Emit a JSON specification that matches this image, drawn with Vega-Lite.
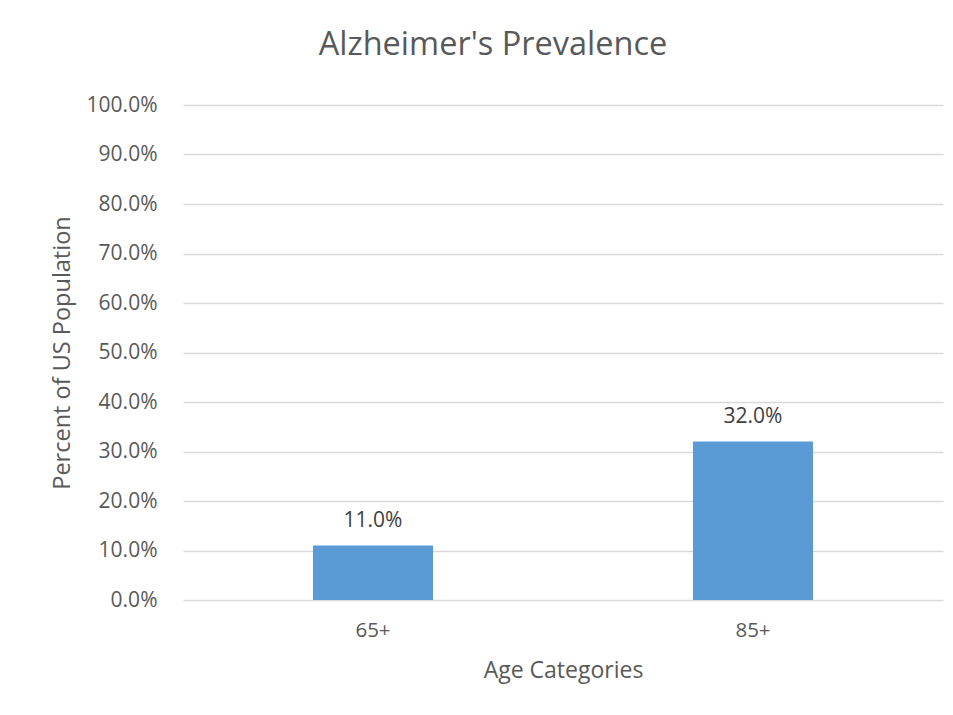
{
  "$schema": "https://vega.github.io/schema/vega-lite/v6.json",
  "width": 760,
  "height": 495,
  "autosize": {"type": "none"},
  "padding": {"left": 183, "top": 105, "right": 10, "bottom": 115},
  "background": "white",
  "title": {
    "text": "Alzheimer's Prevalence",
    "font": "Open Sans",
    "fontSize": 32.5,
    "fontWeight": "normal",
    "color": "#595959",
    "anchor": "middle",
    "baseline": "alphabetic",
    "offset": 7,
    "dx": -70
  },
  "data": {
    "values": [
      {"age": "65+", "prevalence": 0.11},
      {"age": "85+", "prevalence": 0.32}
    ]
  },
  "encoding": {
    "x": {
      "field": "age",
      "type": "nominal",
      "sort": null,
      "scale": {"paddingInner": 0.684, "paddingOuter": 0.342},
      "axis": {
        "title": "Age Categories",
        "labelAngle": 0,
        "labelFont": "Open Sans",
        "labelFontSize": 20.5,
        "labelColor": "#595959",
        "labelPadding": 20,
        "ticks": false,
        "domain": false,
        "titleFont": "Open Sans",
        "titleFontSize": 23,
        "titleFontWeight": "normal",
        "titleColor": "#595959",
        "titlePadding": 19
      }
    },
    "y": {
      "field": "prevalence",
      "type": "quantitative",
      "scale": {"domain": [0, 1], "nice": false},
      "axis": {
        "title": "Percent of US Population",
        "values": [0, 0.1, 0.2, 0.3, 0.4, 0.5, 0.6, 0.7, 0.8, 0.9, 1],
        "format": ".1%",
        "labelFont": "Open Sans",
        "labelFontSize": 21,
        "labelColor": "#595959",
        "labelPadding": 26,
        "ticks": false,
        "domain": false,
        "grid": true,
        "gridColor": "#d9d9d9",
        "gridWidth": 1.3,
        "titleFont": "Open Sans",
        "titleFontSize": 23.5,
        "titleFontWeight": "normal",
        "titleColor": "#595959",
        "titlePadding": 12
      }
    }
  },
  "layer": [
    {"mark": {"type": "bar", "color": "#5B9BD5"}},
    {
      "mark": {
        "type": "text",
        "baseline": "middle",
        "dy": -25,
        "font": "Open Sans",
        "fontSize": 21,
        "color": "#404040"
      },
      "encoding": {
        "text": {"field": "prevalence", "type": "quantitative", "format": ".1%"}
      }
    }
  ],
  "config": {
    "view": {"stroke": null}
  }
}
